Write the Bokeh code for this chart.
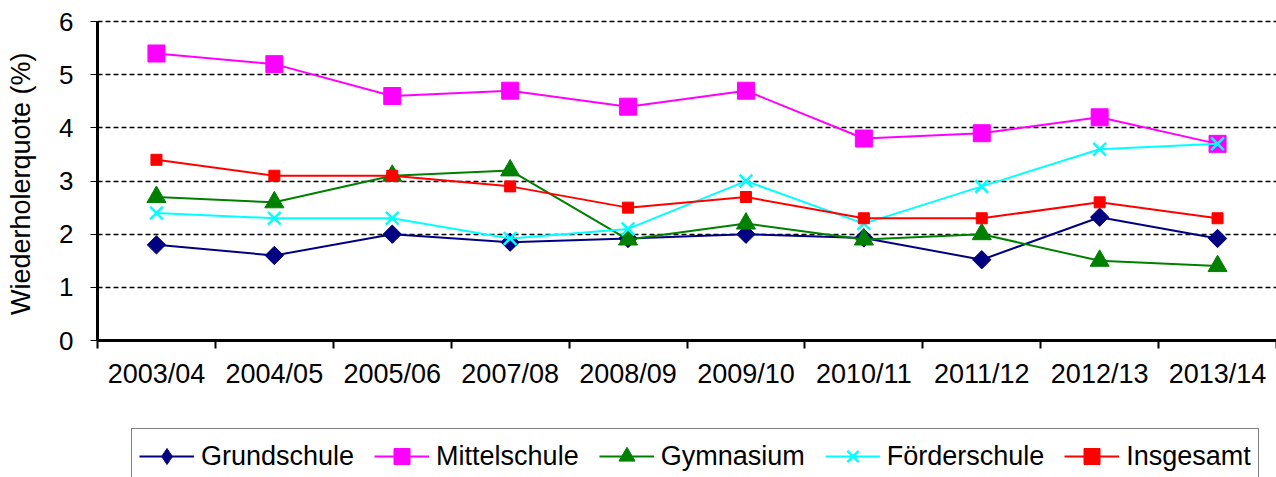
import math
from bokeh.plotting import figure
from bokeh.layouts import column
from bokeh.models import (Range1d, FixedTicker, Legend, LegendItem)
from bokeh.embed import file_html
from bokeh.resources import INLINE

categories = ["2003/04", "2004/05", "2005/06", "2007/08", "2008/09",
              "2009/10", "2010/11", "2011/12", "2012/13", "2013/14"]
grundschule = [1.8, 1.6, 2.0, 1.85, 1.92, 2.0, 1.93, 1.52, 2.32, 1.92]
mittelschule = [5.4, 5.2, 4.6, 4.7, 4.4, 4.7, 3.8, 3.9, 4.2, 3.7]
gymnasium = [2.7, 2.6, 3.1, 3.2, 1.9, 2.2, 1.9, 2.0, 1.5, 1.4]
foerderschule = [2.4, 2.3, 2.3, 1.92, 2.1, 3.0, 2.2, 2.9, 3.6, 3.7]
insgesamt = [3.4, 3.1, 3.1, 2.9, 2.5, 2.7, 2.3, 2.3, 2.6, 2.3]
y_ticks = [0, 1, 2, 3, 4, 5, 6]
y_label = "Wiederholerquote  (%)"

FONT = "Liberation Sans"
n = len(categories)
xs = [i + 0.5 for i in range(n)]

p = figure(width=1276, height=427, output_backend="svg", toolbar_location=None,
           x_range=Range1d(0, n), y_range=Range1d(0, 6.04),
           min_border_left=97, min_border_right=0, min_border_top=19,
           min_border_bottom=87)
p.outline_line_color = None
p.background_fill_color = "white"
p.border_fill_color = "white"

# x axis: labels centered in categories, ticks at boundaries
p.xaxis.ticker = FixedTicker(ticks=xs, minor_ticks=list(range(n + 1)))
p.xaxis.major_label_overrides = {x: c for x, c in zip(xs, categories)}
p.xaxis.major_tick_out = 0
p.xaxis.major_tick_in = 0
p.xaxis.minor_tick_out = 8
p.xaxis.minor_tick_in = 0
p.xaxis.minor_tick_line_width = 2
p.xaxis.minor_tick_line_color = "black"
p.xaxis.axis_line_width = 3
p.xaxis.axis_line_color = "black"
p.xaxis.major_label_text_font = FONT
p.xaxis.major_label_text_font_size = "27px"
p.xaxis.major_label_text_color = "black"
p.xaxis.major_label_standoff = 10
p.xgrid.grid_line_color = None

# y axis
p.yaxis.ticker = FixedTicker(ticks=y_ticks, minor_ticks=[])
p.yaxis.bounds = (0, 6)
p.yaxis.major_tick_out = 7
p.yaxis.major_tick_in = 0
p.yaxis.major_tick_line_color = "black"
p.yaxis.axis_line_width = 3
p.yaxis.axis_line_color = "black"
p.yaxis.major_label_text_font = FONT
p.yaxis.major_label_text_font_size = "26px"
p.yaxis.major_label_text_color = "black"
p.yaxis.major_label_standoff = 17
p.yaxis.axis_label = y_label
p.yaxis.axis_label_text_font = FONT
p.yaxis.axis_label_text_font_size = "27px"
p.yaxis.axis_label_text_font_style = "normal"
p.yaxis.axis_label_text_color = "black"
p.yaxis.axis_label_standoff = 20
p.ygrid.ticker = FixedTicker(ticks=y_ticks[1:])
p.ygrid.grid_line_color = "black"
p.ygrid.grid_line_dash = "5 3"
p.ygrid.grid_line_width = 1.5

series = [
    ("Grundschule", grundschule, "#000080", "square", 13, math.pi / 4, "diamond"),
    ("Mittelschule", mittelschule, "#FF00FF", "square", 17, 0, "square"),
    ("Gymnasium", gymnasium, "#008000", "triangle", 19, 0, "triangle"),
    ("Förderschule", foerderschule, "#00FFFF", "x", 18, 0, "x"),
    ("Insgesamt", insgesamt, "#FF0000", "square", 11, 0, "square"),
]

# legend strip below the chart (its glyph renderers sit outside its view)
q = figure(width=1276, height=50, output_backend="svg", toolbar_location=None,
           x_range=Range1d(0, n), y_range=Range1d(100, 101),
           x_axis_type=None, y_axis_type=None,
           min_border_left=0, min_border_right=0, min_border_top=0,
           min_border_bottom=0)
q.outline_line_color = None
q.grid.grid_line_color = None
q.background_fill_color = "white"
q.border_fill_color = "white"


def add_series(fig, vals, color, marker, size, angle):
    lr = fig.line(xs, vals, line_color=color, line_width=2)
    if marker == "x":
        sr = fig.scatter(xs, vals, marker=marker, size=size, line_color=color,
                         line_width=2.5)
    else:
        sr = fig.scatter(xs, vals, marker=marker, size=size, fill_color=color,
                         line_color=color, angle=angle)
    return lr, sr


items = []
for name, vals, color, marker, size, angle, lmarker in series:
    add_series(p, vals, color, marker, size, angle)
    lr, sr = add_series(q, vals, color, lmarker, size, 0)
    items.append(LegendItem(label=name, renderers=[lr, sr]))

legend = Legend(items=items, orientation="horizontal", location=(34, -7),
                label_text_font=FONT, label_text_font_size="27px",
                label_text_color="black", glyph_width=55, glyph_height=40,
                label_standoff=7, spacing=20, padding=7, margin=0,
                border_line_color="black", border_line_width=1.5,
                background_fill_color="white", background_fill_alpha=1)
q.add_layout(legend, "center")

open("out.html", "w").write(file_html(column(p, q, spacing=0), INLINE))
